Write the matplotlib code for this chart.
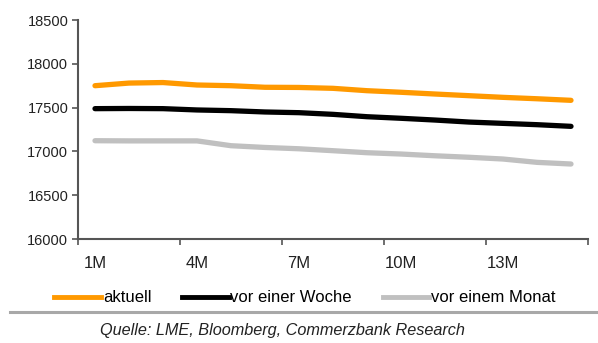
import matplotlib
matplotlib.use("Agg")
import matplotlib.pyplot as plt
from matplotlib.lines import Line2D

plt.rcParams['font.family'] = ['Liberation Sans', 'DejaVu Sans']

categories = [f"{i}M" for i in range(1, 16)]
aktuell = [17750, 17780, 17786, 17758, 17750, 17732, 17730, 17720, 17693, 17675, 17655, 17636, 17617, 17601, 17583]
vor_einer_woche = [17488, 17490, 17488, 17473, 17465, 17450, 17442, 17423, 17396, 17378, 17358, 17335, 17320, 17305, 17286]
vor_einem_monat = [17122, 17120, 17120, 17120, 17065, 17045, 17030, 17008, 16985, 16970, 16950, 16933, 16913, 16875, 16856]
series_labels = ["aktuell", "vor einer Woche", "vor einem Monat"]
colors = ["#FF9900", "#000000", "#C0C0C0"]
yticks = [16000, 16500, 17000, 17500, 18000, 18500]
source = "Quelle: LME, Bloomberg, Commerzbank Research"

W, H = 598, 343
fig = plt.figure(figsize=(W / 100, H / 100), dpi=100)
ax = fig.add_axes([78 / W, 1 - 239 / H, (588 - 78) / W, (239 - 20) / H])

x = list(range(len(categories)))
for vals, c, lab in zip([aktuell, vor_einer_woche, vor_einem_monat], colors, series_labels):
    ax.plot(x, vals, color=c, lw=3.8, solid_capstyle='round', label=lab)

ax.set_xlim(-0.5, len(categories) - 0.5)
ax.set_ylim(16000, 18500)
ax.set_yticks(yticks)
ax.set_yticklabels([str(v) for v in yticks])
# category ticks between groups of 3, labels every 3rd category
ax.set_xticks([i - 0.5 for i in range(0, 16, 3)])
ax.set_xticklabels([])
ax.set_xticks(list(range(0, 15, 3)), minor=True)
ax.set_xticklabels([categories[i] for i in range(0, 15, 3)], minor=True)
ax.tick_params(axis='x', which='minor', length=0, pad=12, labelsize=12, colors='#222222')
ax.tick_params(axis='x', which='major', length=4, direction='out', color='#555555', width=1.2)
ax.tick_params(axis='y', length=4, direction='out', color='#555555', width=1.2, labelsize=10.5, labelcolor='#222222', pad=3)
for s in ['top', 'right']:
    ax.spines[s].set_visible(False)
for s in ['left', 'bottom']:
    ax.spines[s].set_color('#555555')
    ax.spines[s].set_linewidth(1.5)

handles = [Line2D([], [], color=c, lw=3.5) for c in colors]
fig.legend(handles, series_labels, loc='center', bbox_to_anchor=(305 / W, 1 - 298 / H),
           ncol=3, frameon=False, fontsize=12, handlelength=2.8, handletextpad=0.1,
           columnspacing=1.85)

fig.add_artist(Line2D([10 / W, 1.0], [1 - 312 / H] * 2, color='#A8A8A8', lw=2.2,
                      transform=fig.transFigure))
fig.text(282 / W, 1 - 330 / H, source, ha='center', va='center', style='italic',
         fontsize=11.7, color='#222222')

fig.savefig("out.png", dpi=100)
